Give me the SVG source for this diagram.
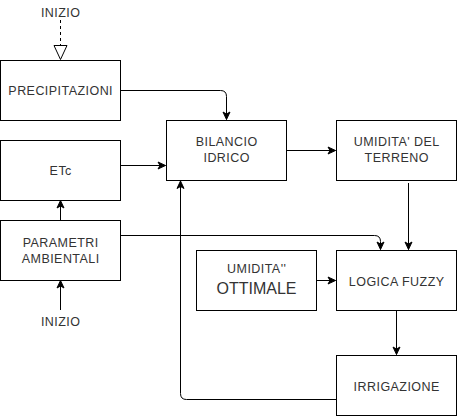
<svg xmlns="http://www.w3.org/2000/svg" width="457" height="416" viewBox="0 0 457 416">
<style>
.box{fill:#fff;stroke:#000;stroke-width:1}
.t{font-family:"Liberation Sans",Arial,sans-serif;font-size:12.5px;fill:#333;text-anchor:middle;letter-spacing:0.45px}
.big{font-size:16px;letter-spacing:0}
.e{fill:none;stroke:#000;stroke-width:1}
</style>
<defs>
<marker id="a" markerUnits="userSpaceOnUse" markerWidth="10" markerHeight="10" refX="8" refY="4" orient="auto" overflow="visible">
<path d="M0.5,0.5 L8,4 L0.5,7.5 L2.5,4 Z" fill="#000" stroke="#000" stroke-width="1"/>
</marker>
</defs>
<rect width="457" height="416" fill="#fff"/>
<g id="connectors">
<path class="e" d="M60.5,20 L60.5,45" stroke-dasharray="3 3"/>
<path d="M54,45.5 L67,45.5 L60.5,59.5 Z" fill="#fff" stroke="#000"/>
<path class="e" d="M120.5,90.5 L220.5,90.5 Q226.5,90.5 226.5,96.5 L226.5,119.5" marker-end="url(#a)"/>
<path class="e" d="M120.5,165.5 L165.5,165.5" marker-end="url(#a)"/>
<path class="e" d="M60.5,220.5 L60.5,200.5" marker-end="url(#a)"/>
<path class="e" d="M60.5,310 L60.5,280.5" marker-end="url(#a)"/>
<path class="e" d="M120.5,235.5 L374.5,235.5 Q380.5,235.5 380.5,241.5 L380.5,249.5" marker-end="url(#a)"/>
<path class="e" d="M286.5,150.5 L335.5,150.5" marker-end="url(#a)"/>
<path class="e" d="M408.5,183 L408.5,249.5" marker-end="url(#a)"/>
<path class="e" d="M316.5,280.5 L335.5,280.5" marker-end="url(#a)"/>
<path class="e" d="M396.5,310.5 L396.5,354.5" marker-end="url(#a)"/>
<path class="e" d="M336.5,399.5 L186.5,399.5 Q180.5,399.5 180.5,393.5 L180.5,181" marker-end="url(#a)"/>
</g>
<g id="inizio-top"><text class="t" x="60.7" y="17">INIZIO</text></g>
<g id="precipitazioni"><rect class="box" x="0.5" y="60.5" width="120" height="60"/><text class="t" x="60.7" y="95">PRECIPITAZIONI</text></g>
<g id="etc"><rect class="box" x="0.5" y="140.5" width="120" height="60"/><text class="t" x="60.7" y="175">ETc</text></g>
<g id="parametri"><rect class="box" x="0.5" y="220.5" width="120" height="60"/><text class="t" x="60.7" y="247">PARAMETRI</text><text class="t" x="60.7" y="263">AMBIENTALI</text></g>
<g id="inizio-bottom"><text class="t" x="60.7" y="326">INIZIO</text></g>
<g id="bilancio"><rect class="box" x="166.5" y="120.5" width="120" height="60"/><text class="t" x="226.7" y="146">BILANCIO</text><text class="t" x="226.7" y="162">IDRICO</text></g>
<g id="umidita-terreno"><rect class="box" x="336.5" y="120.5" width="120" height="60"/><text class="t" x="396.7" y="146">UMIDITA' DEL</text><text class="t" x="396.7" y="162">TERRENO</text></g>
<g id="umidita-ottimale"><rect class="box" x="196.5" y="250.5" width="120" height="60"/><text class="t" x="256.7" y="273">UMIDITA''</text><text class="t big" x="256.5" y="294">OTTIMALE</text></g>
<g id="logica"><rect class="box" x="336.5" y="250.5" width="120" height="60"/><text class="t" x="396.7" y="286">LOGICA FUZZY</text></g>
<g id="irrigazione"><rect class="box" x="336.5" y="355.5" width="120" height="60"/><text class="t" x="396.7" y="391">IRRIGAZIONE</text></g>
</svg>
